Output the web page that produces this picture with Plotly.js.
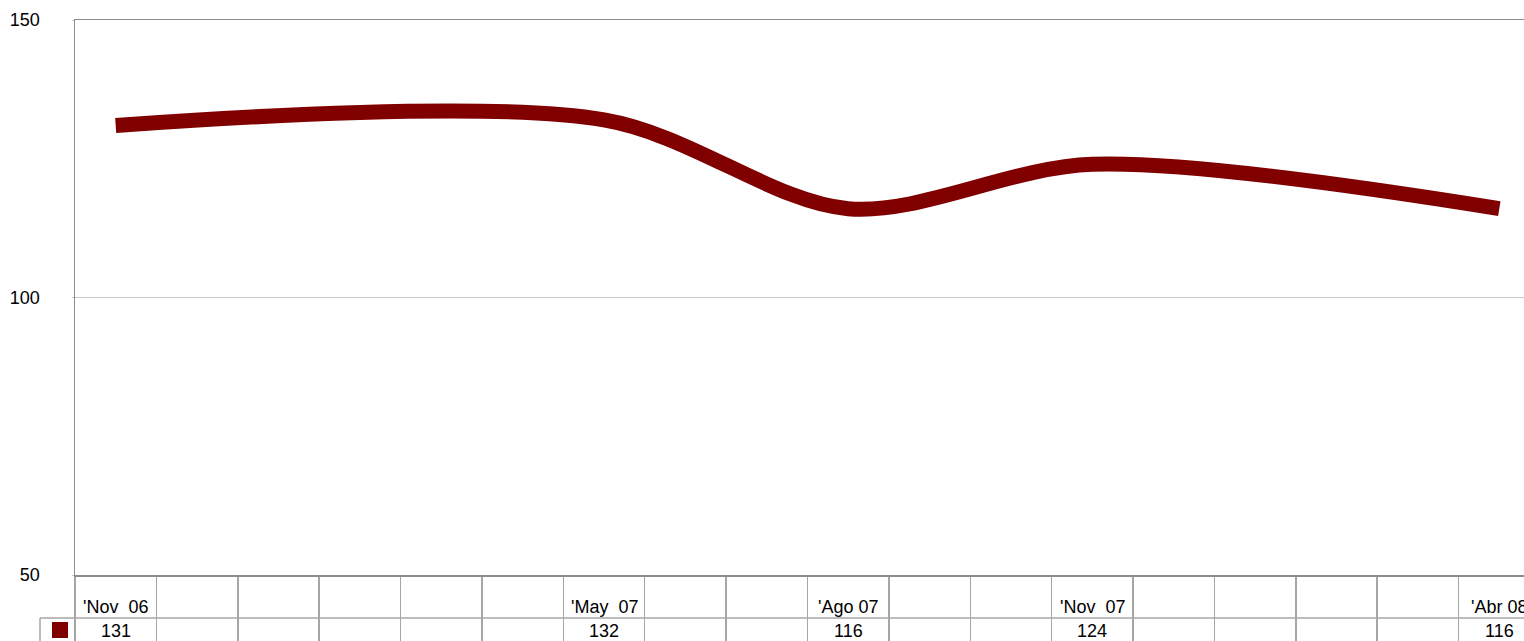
<!DOCTYPE html>
<html>
<head>
<meta charset="utf-8">
<script src="https://cdn.plot.ly/plotly-3.0.1.min.js"></script>
<style>
  html, body { margin: 0; padding: 0; overflow: hidden; background: #fff; }
  #chart { width: 1545px; height: 641px; }
</style>
</head>
<body>
<div id="chart"></div>
<script>
// Months shown in the data table (Nov 2006 – Apr 2008)
const months = [
  "'Nov\u00a0\u00a006", "'Dic 06", "'Ene 07", "'Feb 07", "'Mar 07", "'Abr 07",
  "'May\u00a0\u00a007", "'Jun 07", "'Jul 07", "'Ago 07", "'Sep 07", "'Oct 07",
  "'Nov\u00a0\u00a007", "'Dic 07", "'Ene 08", "'Feb 08", "'Mar 08", "'Abr 08"
];
// Series values (only reported months have a value)
const values = [
  131, null, null, null, null, null,
  132, null, null, 116, null, null,
  124, null, null, null, null, 116
];
const yTicks = [50, 100, 150];

const lineColor = '#800000';
const tableColor = '#a6a6a6';
const fontFam = '"Liberation Sans", Arial, sans-serif';

const plotH = 641 - 20 - 66;
const plotW = 1545 - 75 - 5;

const annotations = [];
months.forEach((m, i) => {
  if (values[i] === null) return;
  annotations.push({
    x: m, xref: 'x', y: 0, yref: 'paper', yshift: -32,
    xanchor: 'center', yanchor: 'middle', showarrow: false,
    text: m, font: {family: fontFam, size: 18, color: '#000'}
  });
  annotations.push({
    x: m, xref: 'x', y: 0, yref: 'paper', yshift: -56,
    xanchor: 'center', yanchor: 'middle', showarrow: false,
    text: String(values[i]), font: {family: fontFam, size: 18, color: '#000'}
  });
});

const shapes = [
  {type: 'line', xref: 'paper', yref: 'paper',
   x0: -35 / plotW, x1: 1, y0: -43 / plotH, y1: -43 / plotH,
   line: {color: tableColor, width: 1.5}},
  {type: 'line', xref: 'paper', yref: 'paper',
   x0: -35 / plotW, x1: -35 / plotW, y0: -43 / plotH, y1: -80 / plotH,
   line: {color: tableColor, width: 1.5}},
  {type: 'rect', xref: 'paper', yref: 'paper',
   x0: -23 / plotW, x1: -7 / plotW, y0: -47 / plotH, y1: -63 / plotH,
   fillcolor: lineColor, line: {width: 0}}
];

const trace = {
  type: 'scatter', mode: 'lines',
  x: months, y: values,
  connectgaps: true,
  line: {color: lineColor, width: 15, shape: 'spline', smoothing: 0.9},
  hoverinfo: 'skip'
};

const layout = {
  width: 1545, height: 641,
  margin: {l: 75, r: 5, t: 20, b: 66, pad: 0},
  paper_bgcolor: '#fff', plot_bgcolor: '#fff',
  showlegend: false,
  font: {family: fontFam, size: 18, color: '#000'},
  xaxis: {
    type: 'category', categoryorder: 'array', categoryarray: months,
    range: [-0.5, months.length - 0.5],
    showticklabels: false, showgrid: false, zeroline: false,
    showline: true, mirror: true, linecolor: '#8c8c8c', linewidth: 1.5,
    ticks: 'outside', tickson: 'boundaries', ticklen: 66,
    tickcolor: tableColor, tickwidth: 1.5
  },
  yaxis: {
    range: [50, 150], tickvals: yTicks, ticktext: yTicks.map(String),
    showgrid: true, gridcolor: '#c8c8c8', gridwidth: 1,
    zeroline: false, showline: true, linecolor: '#8c8c8c', linewidth: 1.5,
    ticks: 'outside', ticklen: 2, tickcolor: '#c8c8c8',
    ticklabelstandoff: 28,
    tickfont: {family: fontFam, size: 18, color: '#000'}
  },
  shapes: shapes,
  annotations: annotations
};

Plotly.newPlot('chart', [trace], layout, {displayModeBar: false, staticPlot: true});
</script>
</body>
</html>
